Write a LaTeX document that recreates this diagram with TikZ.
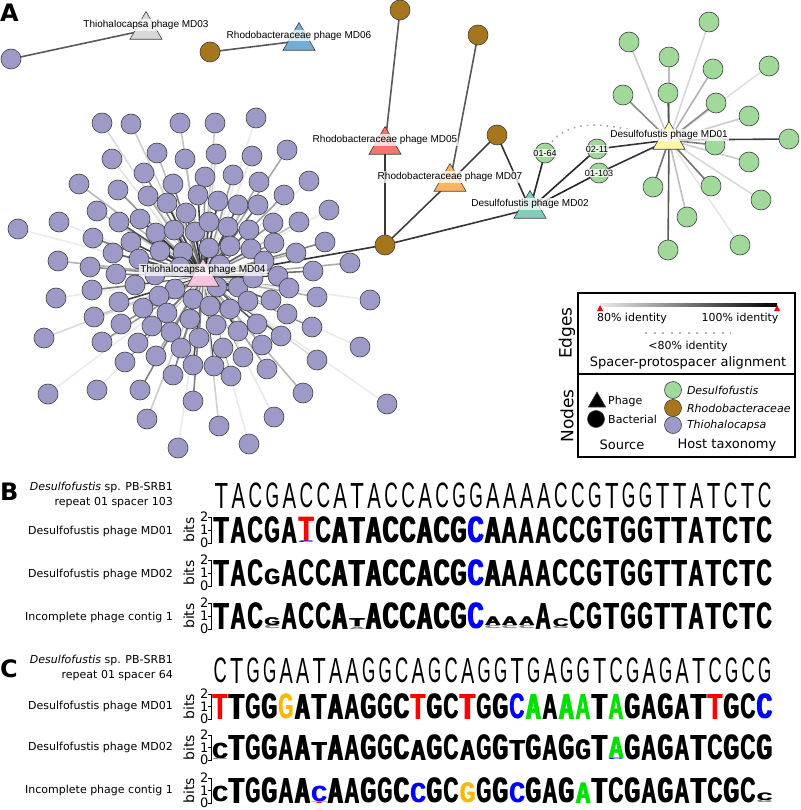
\documentclass[tikz,border=0pt]{standalone}
\usepackage{fontspec}
\usepackage{graphicx}
\setmainfont{DejaVu Sans}
\newfontfamily\netfont{Liberation Sans}
\usetikzlibrary{shapes.geometric}
\usetikzlibrary{backgrounds}
\usetikzlibrary{positioning}

\definecolor{thio}{HTML}{9E9AC8}
\definecolor{desu}{HTML}{A1D99B}
\definecolor{rhodo}{HTML}{A6761D}
\definecolor{cmdtre}{HTML}{D9D9D9}
\definecolor{cmdsix}{HTML}{74ADD1}
\definecolor{cmdfive}{HTML}{F4756B}
\definecolor{cmdseven}{HTML}{FDB462}
\definecolor{cmdtwo}{HTML}{7FCDBB}
\definecolor{cmdone}{HTML}{FFF7A8}
\definecolor{cmdfour}{HTML}{F7C4DD}
\definecolor{lgA}{HTML}{00E000}
\definecolor{lgC}{HTML}{0000FF}
\definecolor{lgG}{HTML}{FFB800}
\definecolor{lgT}{HTML}{FF0000}

\tikzset{%
  bact/.style = {circle,draw=black!75,line width=0.6pt,minimum size=20pt,
        inner sep=0pt},
  phage/.style = {regular polygon,regular polygon sides=3,draw=black!75,
        line width=0.6pt,minimum size=37pt,inner sep=0pt},
  plab/.style = {fill=white,fill opacity=0.75,text opacity=1,inner sep=1pt,
        font=\netfont\fontsize{10}{11}\selectfont},
  slab/.style = {plab,font=\netfont\fontsize{9}{10}\selectfont},
  link/.style = {line width=1.6pt},
  panel/.style = {anchor=base west,inner sep=0pt,
        font=\fontsize{24}{24}\selectfont\bfseries},
  rowlab/.style = {anchor=east,inner sep=0pt,align=right,
        font=\fontsize{11}{15}\selectfont},
  tick/.style = {anchor=east,inner sep=0pt,font=\fontsize{13}{13}\selectfont},
  logo/.style = {anchor=south west,inner sep=0pt,outer sep=0pt},
  legtxt/.style = {inner sep=0pt,font=\fontsize{11}{13}\selectfont},
  legbig/.style = {inner sep=0pt,font=\fontsize{13}{15}\selectfont}
}

% logo letters (drawn twice, a little apart, for a heavy stroke)
\newcount\lgn
\def\skipmark{-}
\newcommand{\ltr}[6]{% x, bottom, width, height, colour, letter
  \global\advance\lgn by 1
  \pgfmathsetmacro{\wq}{#3-1.3}%
  \node[logo,text=#5] (lg\the\lgn) at (#1,#2)
    {\rlap{\resizebox*{\wq pt}{#4pt}{\netfont\bfseries #6}}\kern1.3pt%
     \resizebox*{\wq pt}{#4pt}{\netfont\bfseries #6}};}
\newcommand{\setrow}[4]{\def\rx{#1}\def\rc{#2}\def\rb{#3}\def\rh{#4}}
\newcommand{\logorow}[1]{%
  \foreach \L [count=\i] in {#1} {%
    \ifx\L\skipmark\else
      \pgfmathsetmacro{\xx}{\rx+(\i-1)*\rc+0.2}%
      \pgfmathsetmacro{\ww}{\rc-0.4}%
      \ltr{\xx}{\rb}{\ww}{\rh}{black}{\L}%
    \fi}}
\newcommand{\spec}[5]{% column, bottom, height, colour, letter
  \pgfmathsetmacro{\xx}{\rx+(#1-1)*\rc+0.2}%
  \pgfmathsetmacro{\yy}{\rb-#2*\rh}%
  \pgfmathsetmacro{\ww}{\rc-0.4}%
  \pgfmathsetmacro{\hh}{#3*\rh}%
  \ltr{\xx}{\yy}{\ww}{\hh}{#4}{#5}}
\newcommand{\headrow}[1]{%
  \foreach \L [count=\i] in {#1} {%
    \global\advance\lgn by 1
    \pgfmathsetmacro{\xx}{\rx+(\i-1)*\rc+0.1*\rc}%
    \pgfmathsetmacro{\ww}{0.8*\rc}%
    \node[logo] (hd\the\lgn) at (\xx,\rb)
      {\resizebox*{\ww pt}{\rh pt}{\netfont \L}};}}
\newcommand{\bitsaxis}[3]{% name, top, bottom
  \pgfmathsetmacro{\bm}{(#2+#3)/2}
  \draw[line width=0.7pt] (208,#2) -- (211,#2) -- (211,#3) -- (208,#3)
    (208,\bm) -- (211,\bm);
  \node[tick] (#1two) at (208.5,#2) {2};
  \node[tick] (#1one) at (208.5,\bm) {1};
  \node[tick] (#1zero) at (208.5,#3) {0};
  \node[rotate=90,inner sep=0pt,font=\fontsize{14}{14}\selectfont]
    (#1bits) at (189,\bm) {bits};}

\def\thiolist{102/123, 131/124, 180/123, 215/123, 256/118,
  157/153, 112/159, 185/159, 216/154, 252/156, 287/150,
  79/184, 144/173, 118/190, 173/184, 205/177, 233/175, 259/182, 309/181,
  148/196, 167/203, 198/195, 218/201, 238/205, 258/205, 284/195,
  186/213, 97/211, 59/222, 18/229, 119/222, 140/219, 156/233, 174/230,
  195/232, 209/222, 228/227, 249/230, 273/223, 299/222, 329/210,
  93/238, 131/242, 113/253, 160/251, 183/252, 209/248, 230/246, 251/249,
  274/243, 296/253, 325/242, 350/263,
  58/261, 90/267, 139/259, 116/274, 155/275, 180/267, 220/265, 264/261,
  278/276, 313/271,
  92/290, 135/285, 175/289, 217/287, 238/287, 253/278, 289/288,
  56/298, 119/302, 159/296, 193/299, 210/306, 230/309, 248/301, 271/300,
  317/297, 370/300,
  94/317, 143/308, 167/313, 190/319, 216/325, 238/331, 257/324, 287/314,
  121/324, 152/326, 171/332, 199/338, 281/336, 312/327,
  44/338, 102/342, 138/343, 181/348, 223/348, 262/345, 360/347,
  156/356, 193/365, 214/366, 243/357, 125/362, 173/375, 231/376, 267/369,
  317/360,
  48/394, 97/390, 140/390, 193/401, 303/393, 387/404,
  147/419, 219/426, 274/417, 178/448, 249/444}
\def\desulist{709/22/15, 629/42/20, 669/57/25, 713/69/30, 769/66/12,
  623/95/45, 668/93/70, 716/103/45, 749/116/20, 715/145/50, 789/139/75,
  749/162/20, 653/187/55, 711/186/55, 687/217/25, 761/200/15, 740/245/10,
  668/250/65}

\begin{document}
\begin{tikzpicture}[x=1pt,y=-1pt]
   \useasboundingbox (0,0) rectangle (800,810);

   % panel A: network
   \node[panel] (pa) at (0,22) {A};

   \node[phage,fill=cmdtre] (md03) at (146,30) {};
   \node[bact,fill=thio] (thioa) at (11,59) {};
   \node[phage,fill=cmdsix] (md06) at (299,41) {};
   \node[bact,fill=rhodo] (rha) at (210,52) {};

   \node[bact,fill=rhodo] (rhb) at (400,10) {};
   \node[bact,fill=rhodo] (rhd) at (478,35) {};
   \node[bact,fill=rhodo] (rhe) at (497,135) {};
   \node[bact,fill=rhodo] (rhc) at (385,245) {};
   \node[phage,fill=cmdfive] (md05) at (385,145) {};
   \node[phage,fill=cmdseven] (md07) at (450,182) {};

   \foreach \px/\py/\sh [count=\i] in \desulist
     \node[bact,fill=desu] (d\i) at (\px,\py) {};
   \node[bact,fill=desu] (s0164) at (545,153) {};
   \node[bact,fill=desu] (s0211) at (597,149) {};
   \node[bact,fill=desu] (s01103) at (599,173) {};
   \node[phage,fill=cmdtwo] (md02) at (530,209) {};
   \node[phage,fill=cmdone] (md01) at (669,140) {};

   \foreach \px/\py [count=\i] in \thiolist
     \node[bact,fill=thio] (t\i) at (\px,\py) {};
   \node[phage,fill=cmdfour] (md04) at (203,277) {};

   \begin{pgfonlayer}{background}
     \foreach \px/\py [count=\i] in \thiolist {
       \pgfmathsetmacro{\dd}{veclen(\px-203,\py-277)}
       \pgfmathtruncatemacro{\sh}{max(8,min(95,108-0.6*\dd+mod(\i*37,41)-20))}
       \draw[link,black!\sh] (md04.center) -- (t\i.center);
     }
     \foreach \px/\py/\sh [count=\i] in \desulist {
       \draw[link,black!\sh] (md01.center) -- (d\i.center);
     }
     \draw[link,black!65] (md03.center) -- (thioa.center);
     \draw[link,black!65] (md06.center) -- (rha.center);
     \draw[link,black!65] (md05.center) -- (rhb.center);
     \draw[link,black!78] (md05.center) -- (rhc.center);
     \draw[link,black!65] (md07.center) -- (rhd.center);
     \draw[link,black!75] (md07.center) -- (rhe.center);
     \draw[link,black!75] (md07.center) -- (rhc.center);
     \draw[link,black!80] (md04.center) -- (rhc.center);
     \draw[link,black!80] (md02.center) -- (rhc.center);
     \draw[link,black!80] (md02.center) -- (rhe.center);
     \draw[link,black!85] (md02.center) -- (s0164.center);
     \draw[link,black!85] (md02.center) -- (s0211.center);
     \draw[link,black!85] (md02.center) -- (s01103.center);
     \draw[link,black!80] (s0211.center) -- (md01.center);
     \draw[link,black!80] (s01103.center) -- (md01.center);
     \draw[line width=1.6pt,black!35,dash pattern=on 1.6pt off 5pt]
       (s0164.center) to[out=65,in=165] (md01.center);
   \end{pgfonlayer}

   \node[plab] (md03l) at ([yshift=5pt]md03.center) {Thiohalocapsa phage MD03};
   \node[plab] (md06l) at ([yshift=5.5pt]md06.center) {Rhodobacteraceae phage MD06};
   \node[plab] (md05l) at ([yshift=5pt]md05.center) {Rhodobacteraceae phage MD05};
   \node[plab] (md07l) at ([yshift=5pt]md07.center) {Rhodobacteraceae phage MD07};
   \node[plab] (md02l) at ([yshift=5pt]md02.center) {Desulfofustis phage MD02};
   \node[plab] (md01l) at ([yshift=5pt]md01.center) {Desulfofustis phage MD01};
   \node[plab] (md04l) at ([yshift=7pt]md04.center) {Thiohalocapsa phage MD04};
   \node[slab] (s0164l) at (s0164) {01-64};
   \node[slab] (s0211l) at (s0211) {02-11};
   \node[slab] (s01103l) at (s01103) {01-103};

   % legend
   \draw[line width=1.4pt] (578,293) rectangle (795,457);
   \draw[line width=1.4pt] (578,374) -- (795,374);
   \node[rotate=90,inner sep=0pt,font=\fontsize{17}{17}\selectfont]
     (edgeslab) at (567,333) {Edges};
   \node[rotate=90,inner sep=0pt,font=\fontsize{17}{17}\selectfont]
     (nodeslab) at (567,416) {Nodes};
   \shade[left color=black!8,right color=black] (600,303.5) rectangle (777,306.5);
   \fill[red] (597,311) -- (603,311) -- (600,305) -- cycle;
   \fill[red] (774,311) -- (780,311) -- (777,305) -- cycle;
   \node[legtxt] (id80) at (632,318) {80\% identity};
   \node[legtxt] (id100) at (740,318) {100\% identity};
   \draw[line width=2.2pt,black!30,dash pattern=on 2.2pt off 6.3pt]
     (645,333) -- (731,333);
   \node[legtxt] (idlow) at (688,346) {<80\% identity};
   \node[legbig] (spal) at (688,363) {Spacer-protospacer alignment};

   \node[phage,fill=black,minimum size=20pt] (lgphage) at (597,402) {};
   \node[bact,fill=black,minimum size=17pt] (lgbact) at (596,419) {};
   \node[legtxt,anchor=west] (phagetxt) at (608,401) {Phage};
   \node[legtxt,anchor=west] (bacttxt) at (608,419) {Bacterial};
   \node[legbig] (srctxt) at (622,445) {Source};
   \node[bact,fill=desu,minimum size=17pt] (lgdesu) at (673,390) {};
   \node[bact,fill=rhodo,minimum size=17pt] (lgrhodo) at (673,408) {};
   \node[bact,fill=thio,minimum size=17pt] (lgthio) at (673,425) {};
   \node[legtxt,anchor=west,right=5pt of lgdesu] (desutxt) {\itshape Desulfofustis};
   \node[legtxt,anchor=west,right=5pt of lgrhodo] (rhodotxt) {\itshape Rhodobacteraceae};
   \node[legtxt,anchor=west,right=5pt of lgthio] (thiotxt) {\itshape Thiohalocapsa};
   \node[legbig] (hosttxt) at (727,445) {Host taxonomy};

   % panel B: spacer 103
   \node[panel] (pb) at (0,500) {B};
   \node[rowlab] (bsp) at (173,494.5) {\textit{Desulfofustis} sp. PB-SRB1\\repeat 01 spacer 103};
   \node[rowlab] (bmd01) at (173,531) {Desulfofustis phage MD01};
   \node[rowlab] (bmd02) at (173,574) {Desulfofustis phage MD02};
   \node[rowlab] (bctg) at (173,617) {Incomplete phage contig 1};
   \setrow{213}{16.97}{508}{25}
   \headrow{T,A,C,G,A,C,C,A,T,A,C,C,A,C,G,G,A,A,A,A,C,C,G,T,G,G,T,T,A,T,C,T,C}

   \bitsaxis{ba}{517}{543}
   \setrow{213}{16.97}{543}{26}
   \logorow{T,A,C,G,A,-,C,A,T,A,C,C,A,C,G,-,A,A,A,A,C,C,G,T,G,G,T,T,A,T,C,T,C}
   \spec{6}{0.07}{0.93}{lgT}{T}
   \spec{6}{0}{0.06}{lgC}{C}
   \spec{16}{0}{1}{lgC}{C}

   \bitsaxis{bb}{560}{586}
   \setrow{213}{16.97}{586}{26}
   \logorow{T,A,C,-,A,C,C,A,T,A,C,C,A,C,G,-,A,A,A,A,C,C,G,T,G,G,T,T,A,T,C,T,C}
   \spec{4}{0.04}{0.6}{black}{G}
   \spec{16}{0}{1}{lgC}{C}

   \bitsaxis{bc}{603}{629}
   \setrow{213}{16.97}{629}{26}
   \logorow{T,A,C,-,A,C,C,A,-,A,C,C,A,C,G,-,-,-,-,A,-,C,G,T,G,G,T,T,A,T,C,T,C}
   \spec{4}{0}{0.12}{black!50}{C}
   \spec{4}{0.12}{0.3}{black}{G}
   \spec{9}{0}{0.1}{black!50}{A}
   \spec{9}{0.1}{0.3}{black}{T}
   \spec{16}{0}{1}{lgC}{C}
   \foreach \k in {17,18,19} {
     \spec{\k}{0}{0.12}{black!45}{C}
     \spec{\k}{0.12}{0.33}{black}{A}
   }
   \spec{21}{0}{0.1}{black!50}{G}
   \spec{21}{0.1}{0.3}{black}{C}

   % panel C: spacer 64
   \node[panel] (pc) at (0,677) {C};
   \node[rowlab] (csp) at (173,667.5) {\textit{Desulfofustis} sp. PB-SRB1\\repeat 01 spacer 64};
   \node[rowlab] (cmd01) at (173,706) {Desulfofustis phage MD01};
   \node[rowlab] (cmd02) at (173,747) {Desulfofustis phage MD02};
   \node[rowlab] (cctg) at (173,790) {Incomplete phage contig 1};
   \setrow{212}{16.5}{683}{25}
   \headrow{C,T,G,G,A,A,T,A,A,G,G,C,A,G,C,A,G,G,T,G,A,G,G,T,C,G,A,G,A,T,C,G,C,G}

   \bitsaxis{ca}{694}{719}
   \setrow{212}{16.5}{719}{25}
   \logorow{-,T,G,G,-,A,T,A,A,G,G,C,-,G,C,-,G,G,-,-,A,-,-,T,-,G,A,G,A,T,-,G,C,-}
   \spec{1}{0}{1}{lgT}{T}
   \spec{5}{0}{1}{lgG}{G}
   \spec{13}{0}{1}{lgT}{T}
   \spec{16}{0}{1}{lgT}{T}
   \spec{19}{0}{1}{lgC}{C}
   \foreach \k in {20,22,23,25} {
     \spec{\k}{0}{1}{lgA}{A}
   }
   \spec{31}{0}{1}{lgT}{T}
   \spec{34}{0}{1}{lgC}{C}

   \bitsaxis{cb}{735}{760}
   \setrow{212}{16.5}{760}{25}
   \logorow{-,T,G,G,A,A,-,A,A,G,G,C,-,G,C,-,G,G,-,G,A,G,-,T,-,G,A,G,A,T,C,G,C,G}
   \spec{1}{0}{0.05}{black!50}{G}
   \spec{1}{0.05}{0.62}{black}{C}
   \spec{7}{0}{0.72}{black}{T}
   \spec{13}{0}{0.8}{black}{A}
   \spec{16}{0}{0.8}{black}{A}
   \spec{19}{0}{0.8}{black}{T}
   \spec{23}{0}{0.8}{black}{G}
   \spec{25}{0}{0.05}{lgC}{C}
   \spec{25}{0.05}{0.85}{lgA}{A}

   \bitsaxis{cc}{778}{803}
   \setrow{212}{16.5}{803}{25}
   \logorow{-,T,G,G,A,A,-,A,A,G,G,C,-,G,C,-,G,G,-,G,A,G,-,T,C,G,A,G,A,T,C,G,C,-}
   \spec{1}{0.04}{0.62}{black}{C}
   \spec{7}{0}{0.05}{lgT}{T}
   \spec{7}{0.05}{0.62}{lgC}{C}
   \spec{13}{0}{0.78}{lgC}{C}
   \spec{16}{0}{0.8}{lgG}{G}
   \spec{19}{0}{0.8}{lgC}{C}
   \spec{23}{0}{0.82}{lgA}{A}
   \spec{34}{0}{0.1}{black!50}{G}
   \spec{34}{0.1}{0.3}{black}{C}
\end{tikzpicture}
\end{document}
